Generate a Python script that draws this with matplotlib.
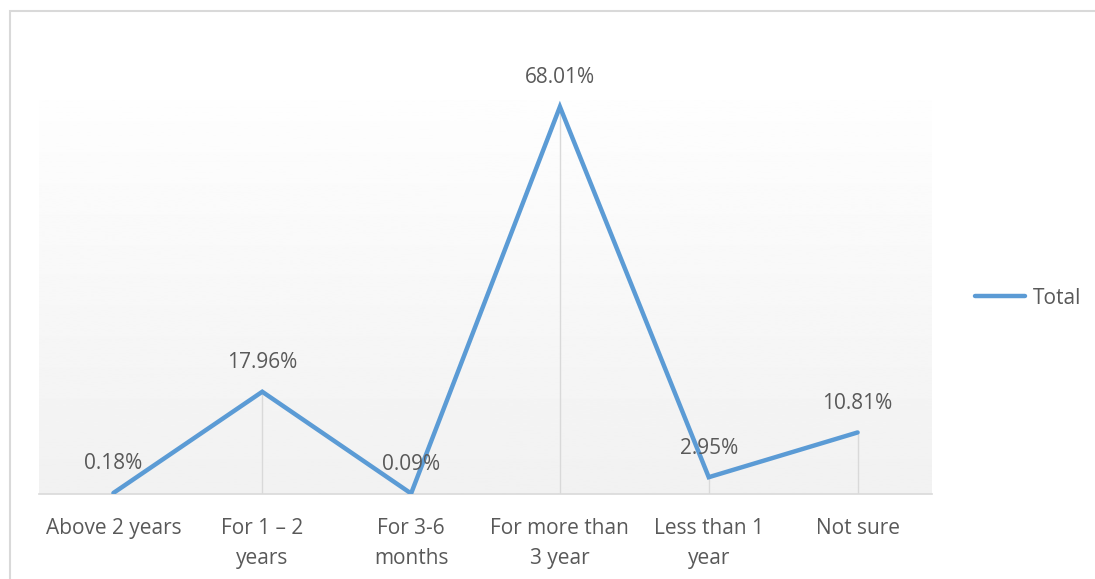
import numpy as np
import matplotlib
matplotlib.use("Agg")
import matplotlib.pyplot as plt
from matplotlib.patches import Rectangle

categories = ["Above 2 years", "For 1 \u2013 2\nyears", "For 3-6\nmonths",
              "For more than\n3 year", "Less than 1\nyear", "Not sure"]
values = [0.18, 17.96, 0.09, 68.01, 2.95, 10.81]
labels = ["0.18%", "17.96%", "0.09%", "68.01%", "2.95%", "10.81%"]

LINE = "#5b9bd5"
TEXT = "#595959"
GRID = "#d9d9d9"
FS = 15
plt.rcParams["font.family"] = ["Open Sans", "DejaVu Sans"]

fig = plt.figure(figsize=(10.95, 5.79), dpi=100)
# chart border, runs off the right and bottom edges
fig.patches.append(Rectangle((10 / 1095, -0.05), 1.2, 1 - 11 / 579 + 0.05,
                             transform=fig.transFigure, fill=False,
                             edgecolor=GRID, lw=1.5))

ax = fig.add_axes([39 / 1095, 85 / 579, 893 / 1095, 394 / 579])
x = np.arange(len(values))
ymax = 69.2
ax.set_xlim(-0.5, len(values) - 0.5)
ax.set_ylim(0, ymax)

# plot area fill: white at top fading to light grey
grad = np.linspace(0.995, 0.945, 256).reshape(-1, 1)
ax.imshow(grad, cmap="gray", vmin=0, vmax=1, aspect="auto",
          extent=[-0.5, len(values) - 0.5, 0, ymax], origin="upper", zorder=0)

ax.vlines(x, 0, values, color=GRID, lw=1.0, zorder=1)
ax.plot(x, values, color=LINE, lw=3.2, solid_capstyle="round",
        solid_joinstyle="miter", label="Total", zorder=3)
for xi, v, s in zip(x, values, labels):
    ax.annotate(s, (xi, v), xytext=(0, 29), textcoords="offset pixels",
                ha="center", va="center", fontsize=FS, color=TEXT, zorder=4)

for sp in ["top", "right", "left"]:
    ax.spines[sp].set_visible(False)
ax.spines["bottom"].set_color(GRID)
ax.spines["bottom"].set_linewidth(1.2)
ax.set_yticks([])
ax.set_xticks(x)
ax.set_xticklabels(categories, fontsize=FS, color=TEXT, linespacing=1.6,
                   va="top")
ax.tick_params(axis="x", length=0, pad=17)

leg = fig.legend(loc="center left", bbox_to_anchor=(956 / 1095, 1 - 298 / 579),
                 frameon=False, fontsize=FS, handlelength=2.4,
                 handletextpad=0.4)
for t in leg.get_texts():
    t.set_color(TEXT)

fig.savefig("out.png", dpi=100)
